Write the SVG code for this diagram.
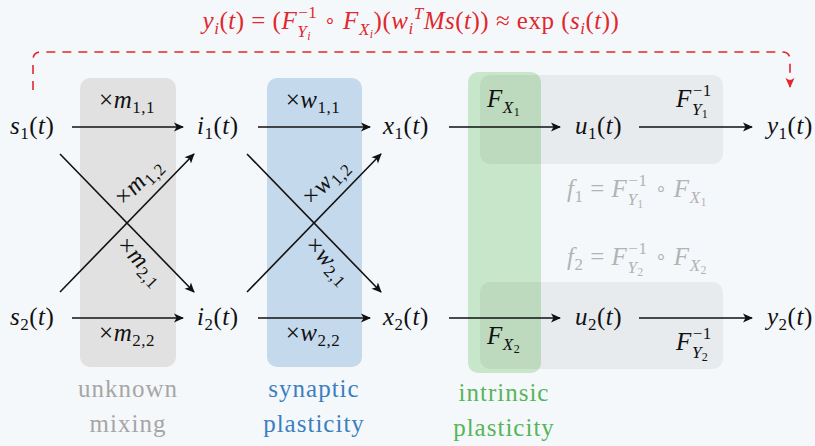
<svg xmlns="http://www.w3.org/2000/svg" width="815" height="446" viewBox="0 0 815 446">
<defs>
<style>
.m{font-family:"Liberation Serif","Times New Roman",serif;font-size:25px;letter-spacing:0.5px;fill:#111}
.i{font-style:italic}
.s{font-size:17px}
.ss{font-size:12px}
.o{font-size:19px}
.red{fill:#e0282e}
.gy{fill:#b3b3b3}
.lbl{font-family:"Liberation Serif","Times New Roman",serif;font-size:25px;letter-spacing:1px;text-anchor:middle}
.ar{stroke:#111;stroke-width:1.6;fill:none;marker-end:url(#ah)}
</style>
<marker id="ah" viewBox="0 0 10 10" refX="9" refY="5" markerWidth="11" markerHeight="10" markerUnits="userSpaceOnUse" orient="auto">
<path d="M0,0.5 L10,5 L0,9.5 L2.5,5 z" fill="#111"/>
</marker>
<marker id="rah" viewBox="0 0 10 10" refX="9" refY="5" markerWidth="11" markerHeight="10" markerUnits="userSpaceOnUse" orient="auto">
<path d="M0,0.5 L10,5 L0,9.5 L2.5,5 z" fill="#e0282e"/>
</marker>
</defs>
<rect x="0" y="0" width="815" height="446" fill="#f5f8fb"/>

<g id="regions">
<rect x="80" y="78" width="96" height="289" rx="10" fill="#e1e1e1"/>
<rect x="267" y="78" width="95" height="289" rx="10" fill="#c4d9ec"/>
<rect x="468" y="72" width="73" height="301" rx="10" fill="#c8e6c9"/>
<rect x="480" y="75" width="243" height="89" rx="10" fill="#000" fill-opacity="0.05"/>
<rect x="480" y="282" width="243" height="87" rx="10" fill="#000" fill-opacity="0.05"/>
</g>

<g id="title">
<text class="m red" x="411" y="29" text-anchor="middle"><tspan class="i">y</tspan><tspan class="s i" dy="5">i</tspan><tspan dy="-5">(</tspan><tspan class="i">t</tspan>) = (<tspan class="i">F</tspan><tspan class="s" dx="1" dy="-11">−1</tspan><tspan class="s i" dx="-20" dy="19">Y</tspan><tspan class="ss i" dy="3">i</tspan><tspan dx="6" dy="-11"> </tspan><tspan class="o" dy="-2">∘</tspan><tspan dy="2"> </tspan><tspan class="i">F</tspan><tspan class="s i" dy="6">X</tspan><tspan class="ss i" dy="3">i</tspan><tspan dy="-9">)(</tspan><tspan class="i">w</tspan><tspan class="s i" dy="5">i</tspan><tspan class="s i" dy="-15">T</tspan><tspan class="i" dy="10">Ms</tspan>(<tspan class="i">t</tspan>)) ≈ exp (<tspan class="i">s</tspan><tspan class="s i" dy="5">i</tspan><tspan dy="-5">(</tspan><tspan class="i">t</tspan>))</text>
</g>

<g id="connectors">
<path d="M33,90 V60 Q33,52 41,52 H782 Q790,52 790,60 V87" fill="none" stroke="#e0282e" stroke-width="1.6" stroke-dasharray="9 7" marker-end="url(#rah)"/>
<line class="ar" x1="72" y1="127" x2="183" y2="127"/>
<line class="ar" x1="72" y1="318" x2="183" y2="318"/>
<line class="ar" x1="60" y1="154" x2="194" y2="292"/>
<line class="ar" x1="60" y1="292" x2="194" y2="154"/>
<line class="ar" x1="258" y1="127" x2="370" y2="127"/>
<line class="ar" x1="258" y1="318" x2="370" y2="318"/>
<line class="ar" x1="247" y1="154" x2="381" y2="292"/>
<line class="ar" x1="247" y1="292" x2="381" y2="154"/>
<line class="ar" x1="449" y1="127" x2="560" y2="127"/>
<line class="ar" x1="449" y1="318" x2="560" y2="318"/>
<line class="ar" x1="639" y1="127" x2="752" y2="127"/>
<line class="ar" x1="639" y1="318" x2="752" y2="318"/>
</g>

<g id="edge-labels">
<text class="m" x="127" y="108" text-anchor="middle">×<tspan class="i">m</tspan><tspan class="s" dy="5">1,1</tspan></text>
<text class="m" x="127" y="341" text-anchor="middle">×<tspan class="i">m</tspan><tspan class="s" dy="5">2,2</tspan></text>
<text class="m" x="313" y="108" text-anchor="middle">×<tspan class="i">w</tspan><tspan class="s" dy="5">1,1</tspan></text>
<text class="m" x="313" y="341" text-anchor="middle">×<tspan class="i">w</tspan><tspan class="s" dy="5">2,2</tspan></text>
<g transform="translate(127,223) rotate(-46)"><text class="m" x="38" y="-13" text-anchor="middle">×<tspan class="i">m</tspan><tspan class="s" dy="5">1,2</tspan></text></g>
<g transform="translate(127,223) rotate(46)"><text class="m" x="37" y="24" text-anchor="middle">×<tspan class="i">m</tspan><tspan class="s" dy="5">2,1</tspan></text></g>
<g transform="translate(314,223) rotate(-46)"><text class="m" x="38" y="-13" text-anchor="middle">×<tspan class="i">w</tspan><tspan class="s" dy="5">1,2</tspan></text></g>
<g transform="translate(314,223) rotate(46)"><text class="m" x="37" y="23" text-anchor="middle">×<tspan class="i">w</tspan><tspan class="s" dy="5">2,1</tspan></text></g>
<text class="m" x="487" y="107"><tspan class="i">F</tspan><tspan class="s i" dy="6">X</tspan><tspan class="ss" dy="3">1</tspan></text>
<text class="m" x="487" y="344"><tspan class="i">F</tspan><tspan class="s i" dy="6">X</tspan><tspan class="ss" dy="3">2</tspan></text>
<text class="m" x="676" y="107"><tspan class="i">F</tspan><tspan class="s" dx="1" dy="-11">−1</tspan><tspan class="s i" dx="-20" dy="19">Y</tspan><tspan class="ss" dy="3">1</tspan></text>
<text class="m" x="676" y="350"><tspan class="i">F</tspan><tspan class="s" dx="1" dy="-11">−1</tspan><tspan class="s i" dx="-20" dy="19">Y</tspan><tspan class="ss" dy="3">2</tspan></text>
</g>

<g id="formulas">
<text class="m gy" x="637" y="197" text-anchor="middle"><tspan class="i">f</tspan><tspan class="s" dy="5">1</tspan><tspan dy="-5"> = </tspan><tspan class="i">F</tspan><tspan class="s" dx="1" dy="-11">−1</tspan><tspan class="s i" dx="-20" dy="19">Y</tspan><tspan class="ss" dy="3">1</tspan><tspan dx="4" dy="-11"> </tspan><tspan class="o" dy="-2">∘</tspan><tspan dy="2"> </tspan><tspan class="i">F</tspan><tspan class="s i" dy="6">X</tspan><tspan class="ss" dy="3">1</tspan></text>
<text class="m gy" x="637" y="265" text-anchor="middle"><tspan class="i">f</tspan><tspan class="s" dy="5">2</tspan><tspan dy="-5"> = </tspan><tspan class="i">F</tspan><tspan class="s" dx="1" dy="-11">−1</tspan><tspan class="s i" dx="-20" dy="19">Y</tspan><tspan class="ss" dy="3">2</tspan><tspan dx="4" dy="-11"> </tspan><tspan class="o" dy="-2">∘</tspan><tspan dy="2"> </tspan><tspan class="i">F</tspan><tspan class="s i" dy="6">X</tspan><tspan class="ss" dy="3">2</tspan></text>
</g>

<g id="s1"><text class="m" x="10" y="134"><tspan class="i">s</tspan><tspan class="s" dy="5">1</tspan><tspan dy="-5">(</tspan><tspan class="i">t</tspan>)</text></g>
<g id="s2"><text class="m" x="10" y="325"><tspan class="i">s</tspan><tspan class="s" dy="5">2</tspan><tspan dy="-5">(</tspan><tspan class="i">t</tspan>)</text></g>
<g id="i1"><text class="m" x="197" y="134"><tspan class="i">i</tspan><tspan class="s" dy="5">1</tspan><tspan dy="-5">(</tspan><tspan class="i">t</tspan>)</text></g>
<g id="i2"><text class="m" x="197" y="325"><tspan class="i">i</tspan><tspan class="s" dy="5">2</tspan><tspan dy="-5">(</tspan><tspan class="i">t</tspan>)</text></g>
<g id="x1"><text class="m" x="383" y="134"><tspan class="i">x</tspan><tspan class="s" dy="5">1</tspan><tspan dy="-5">(</tspan><tspan class="i">t</tspan>)</text></g>
<g id="x2"><text class="m" x="383" y="325"><tspan class="i">x</tspan><tspan class="s" dy="5">2</tspan><tspan dy="-5">(</tspan><tspan class="i">t</tspan>)</text></g>
<g id="u1"><text class="m" x="575" y="134"><tspan class="i">u</tspan><tspan class="s" dy="5">1</tspan><tspan dy="-5">(</tspan><tspan class="i">t</tspan>)</text></g>
<g id="u2"><text class="m" x="575" y="325"><tspan class="i">u</tspan><tspan class="s" dy="5">2</tspan><tspan dy="-5">(</tspan><tspan class="i">t</tspan>)</text></g>
<g id="y1"><text class="m" x="767" y="134"><tspan class="i">y</tspan><tspan class="s" dy="5">1</tspan><tspan dy="-5">(</tspan><tspan class="i">t</tspan>)</text></g>
<g id="y2"><text class="m" x="767" y="325"><tspan class="i">y</tspan><tspan class="s" dy="5">2</tspan><tspan dy="-5">(</tspan><tspan class="i">t</tspan>)</text></g>

<g id="captions">
<text class="lbl" x="128" y="397" fill="#a6a6a6">unknown</text>
<text class="lbl" x="128" y="432" fill="#a6a6a6">mixing</text>
<text class="lbl" x="314" y="397" fill="#3a7fc1">synaptic</text>
<text class="lbl" x="314" y="432" fill="#3a7fc1">plasticity</text>
<text class="lbl" x="504" y="401" fill="#55b557">intrinsic</text>
<text class="lbl" x="504" y="436" fill="#55b557">plasticity</text>
</g>
</svg>
